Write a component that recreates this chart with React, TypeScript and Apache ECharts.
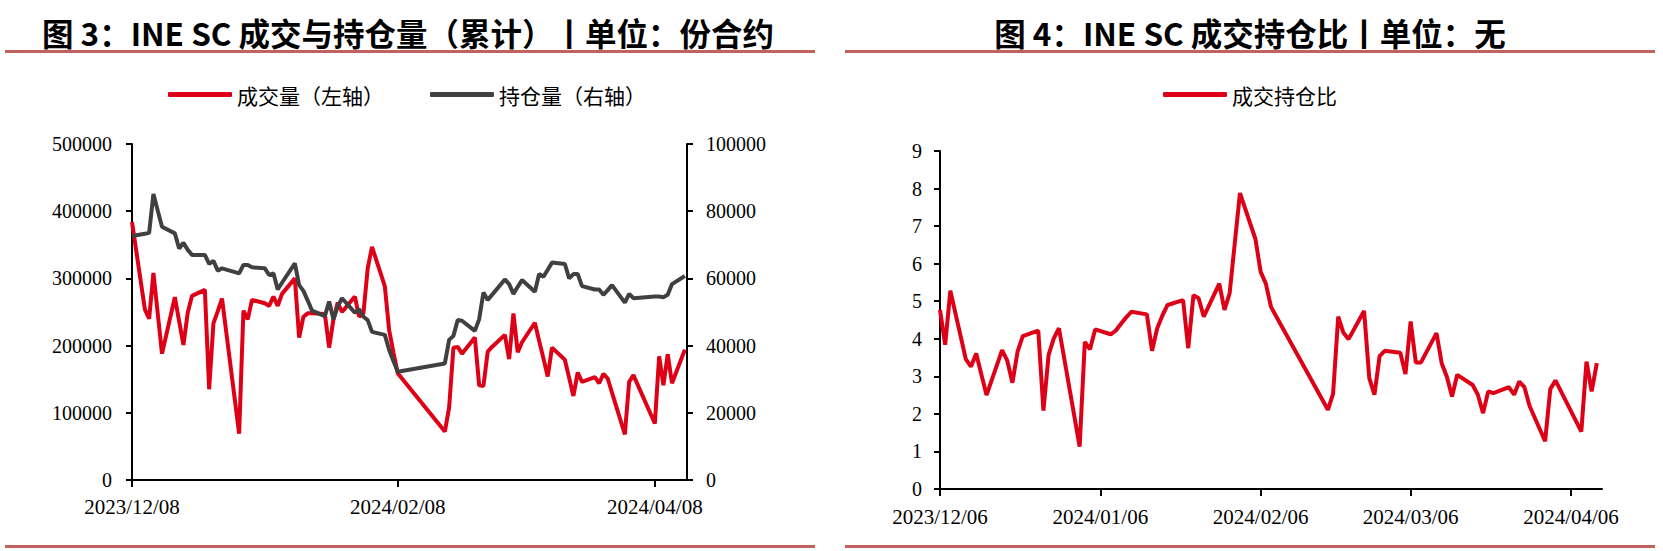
import React, { useEffect, useRef } from "react";
import * as echarts from "echarts";

// ---- Data (left chart: 成交量 / 持仓量) ----
const volDates = [
  "2023-12-08", "2023-12-11", "2023-12-12", "2023-12-13", "2023-12-14", "2023-12-15",
  "2023-12-18", "2023-12-19", "2023-12-20", "2023-12-21", "2023-12-22",
  "2023-12-25", "2023-12-26", "2023-12-27", "2023-12-28", "2023-12-29",
  "2024-01-02", "2024-01-03", "2024-01-04", "2024-01-05",
  "2024-01-08", "2024-01-09", "2024-01-10", "2024-01-11", "2024-01-12",
  "2024-01-15", "2024-01-16", "2024-01-17", "2024-01-18", "2024-01-19",
  "2024-01-22", "2024-01-23", "2024-01-24", "2024-01-25", "2024-01-26",
  "2024-01-29", "2024-01-30", "2024-01-31", "2024-02-01", "2024-02-02",
  "2024-02-05", "2024-02-06", "2024-02-07", "2024-02-08",
  "2024-02-19", "2024-02-20", "2024-02-21", "2024-02-22", "2024-02-23",
  "2024-02-26", "2024-02-27", "2024-02-28", "2024-02-29", "2024-03-01",
  "2024-03-04", "2024-03-05", "2024-03-06", "2024-03-07", "2024-03-08",
  "2024-03-11", "2024-03-12", "2024-03-13", "2024-03-14", "2024-03-15",
  "2024-03-18", "2024-03-19", "2024-03-20", "2024-03-21", "2024-03-22",
  "2024-03-25", "2024-03-26", "2024-03-27", "2024-03-28", "2024-03-29",
  "2024-04-01", "2024-04-02", "2024-04-03",
  "2024-04-08", "2024-04-09", "2024-04-10", "2024-04-11", "2024-04-12",
  "2024-04-15",
];
const volume = [
  384000, 254000, 240000, 308000, 248000, 188000,
  272000, 236000, 201000, 249000, 274000,
  283000, 135000, 233000, 251000, 270000,
  69000, 252000, 239000, 268000,
  263000, 259000, 273000, 259000, 277000,
  300000, 212000, 243000, 248000, 248000,
  247000, 197000, 239000, 264000, 250000,
  273000, 243000, 248000, 315000, 347000,
  288000, 223000, 190000, 159000,
  72000, 108000, 197000, 198000, 188000,
  212000, 141000, 140000, 191000, 198000,
  216000, 180000, 248000, 190000, 205000,
  234000, 207000, 181000, 154000, 197000,
  179000, 152000, 125000, 160000, 146000,
  153000, 144000, 158000, 151000, 130000,
  68000, 146000, 156000,
  84000, 184000, 141000, 187000, 144000,
  194000,
];
const openInterest = [
  72600, 73300, 73600, 85100, 80200, 75400,
  73400, 68900, 70600, 68500, 67000,
  67000, 64300, 65200, 62300, 63000,
  61500, 64000, 64000, 63300,
  63000, 61000, 61500, 56700, 58700,
  64500, 58000, 56300, 53400, 50400,
  48800, 53100, 47800, 51600, 54100,
  49800, 50800, 48600, 47600, 44100,
  43200, 38700, 35400, 32200,
  34700, 41700, 42900, 47600, 47400,
  44400, 47800, 55800, 53600, 55100,
  59700, 58300, 55400, 57500, 59500,
  56000, 61300, 60500, 62600, 64700,
  64300, 60000, 61300, 61300, 57700,
  56700, 56700, 55100, 56500, 58000,
  52800, 55400, 54100,
  54600, 54600, 54400, 55100, 58300,
  60700,
];

// ---- Data (right chart: 成交持仓比) ----
const ratioDates = [
  "2023-12-06", "2023-12-07", "2023-12-08",
  "2023-12-11", "2023-12-12", "2023-12-13", "2023-12-14", "2023-12-15",
  "2023-12-18", "2023-12-19", "2023-12-20", "2023-12-21", "2023-12-22",
  "2023-12-25", "2023-12-26", "2023-12-27", "2023-12-28", "2023-12-29",
  "2024-01-02", "2024-01-03", "2024-01-04", "2024-01-05",
  "2024-01-08", "2024-01-09", "2024-01-10", "2024-01-11", "2024-01-12",
  "2024-01-15", "2024-01-16", "2024-01-17", "2024-01-18", "2024-01-19",
  "2024-01-22", "2024-01-23", "2024-01-24", "2024-01-25", "2024-01-26",
  "2024-01-29", "2024-01-30", "2024-01-31", "2024-02-01", "2024-02-02",
  "2024-02-05", "2024-02-06", "2024-02-07", "2024-02-08",
  "2024-02-19", "2024-02-20", "2024-02-21", "2024-02-22", "2024-02-23",
  "2024-02-26", "2024-02-27", "2024-02-28", "2024-02-29", "2024-03-01",
  "2024-03-04", "2024-03-05", "2024-03-06", "2024-03-07", "2024-03-08",
  "2024-03-11", "2024-03-12", "2024-03-13", "2024-03-14", "2024-03-15",
  "2024-03-18", "2024-03-19", "2024-03-20", "2024-03-21", "2024-03-22",
  "2024-03-25", "2024-03-26", "2024-03-27", "2024-03-28", "2024-03-29",
  "2024-04-01", "2024-04-02", "2024-04-03",
  "2024-04-08", "2024-04-09", "2024-04-10", "2024-04-11",
];
const ratio = [
  4.77, 3.84, 5.28,
  3.45, 3.26, 3.61, 3.05, 2.5,
  3.7, 3.42, 2.83, 3.66, 4.07,
  4.22, 2.09, 3.57, 4.01, 4.28,
  1.13, 3.92, 3.72, 4.25,
  4.12, 4.22, 4.4, 4.57, 4.72,
  4.65, 3.68, 4.28, 4.62, 4.9,
  5.03, 3.75, 5.16, 5.08, 4.59,
  5.47, 4.77, 5.21, 6.55, 7.88,
  6.65, 5.78, 5.47, 4.85,
  2.11, 2.53, 4.59, 4.16, 3.99,
  4.74, 2.95, 2.51, 3.54, 3.68,
  3.63, 3.06, 4.46, 3.37, 3.37,
  4.15, 3.35, 2.99, 2.46, 3.04,
  2.77, 2.51, 2.02, 2.6, 2.55,
  2.71, 2.51, 2.86, 2.71, 2.21,
  1.27, 2.66, 2.89,
  1.53, 3.39, 2.6, 3.35,
];

const leftTickDates = ["2023-12-08", "2024-02-08", "2024-04-08"];
const rightTickDates = ["2023-12-06", "2024-01-06", "2024-02-06", "2024-03-06", "2024-04-06"];

const leftTitle = "图 3：INE SC 成交与持仓量（累计）丨单位：份合约";
const rightTitle = "图 4：INE SC 成交持仓比丨单位：无";

const RED = "#DE0016";
const GRAY = "#404040";
const DIV = "#C0625E";
const CJK = "'Noto Sans CJK SC', sans-serif";
const SERIF = "'Liberation Serif', 'Times New Roman', serif";
const DAY = 86400000;
const LINE_W = 4;

function ts(s: string): number {
  const [y, m, d] = s.split("-").map(Number);
  return Date.UTC(y, m - 1, d);
}
function pad(n: number): string {
  return n < 10 ? "0" + n : "" + n;
}
function fmtDate(v: number): string {
  const d = new Date(Math.round(v / DAY) * DAY);
  return `${d.getUTCFullYear()}/${pad(d.getUTCMonth() + 1)}/${pad(d.getUTCDate())}`;
}
const plain = (v: number) => String(v);

const axisLineStyle = { show: true, lineStyle: { color: "#000", width: 2 } };
const axisTickStyle = { show: true, length: 6, lineStyle: { color: "#000", width: 2 } };

export default function App() {
  const ref = useRef<HTMLDivElement>(null);

  useEffect(() => {
    if (!ref.current) return;
    const chart = echarts.init(ref.current, undefined, { renderer: "svg" });

    const leftTicks = leftTickDates.map(ts);
    const rightTicks = rightTickDates.map(ts);

    const option: any = {
      animation: false,
      backgroundColor: "#fff",
      graphic: [
        {
          type: "text",
          x: 408,
          y: 32,
          style: {
            text: leftTitle,
            textAlign: "center",
            textVerticalAlign: "middle",
            font: `bold 31.5px ${CJK}`,
            fill: "#000",
          },
        },
        {
          type: "text",
          x: 1250,
          y: 32,
          style: {
            text: rightTitle,
            textAlign: "center",
            textVerticalAlign: "middle",
            font: `bold 31.5px ${CJK}`,
            fill: "#000",
          },
        },
        { type: "rect", shape: { x: 5, y: 50, width: 810, height: 3 }, style: { fill: DIV } },
        { type: "rect", shape: { x: 845, y: 50, width: 810, height: 3 }, style: { fill: DIV } },
        { type: "rect", shape: { x: 5, y: 545, width: 810, height: 3 }, style: { fill: DIV } },
        { type: "rect", shape: { x: 845, y: 545, width: 810, height: 3 }, style: { fill: DIV } },
      ],
      legend: [
        {
          data: ["成交量（左轴）", "持仓量（右轴）"],
          left: 168,
          top: 84,
          padding: 0,
          itemGap: 46,
          itemWidth: 64,
          itemHeight: 5,
          icon: "roundRect",
          selectedMode: false,
          textStyle: { fontSize: 21, fontFamily: CJK, color: "#000" },
        },
        {
          data: ["成交持仓比"],
          left: 1163,
          top: 84,
          padding: 0,
          itemWidth: 64,
          itemHeight: 5,
          icon: "roundRect",
          selectedMode: false,
          textStyle: { fontSize: 21, fontFamily: CJK, color: "#000" },
        },
      ],
      grid: [
        { left: 132, top: 144, width: 555, height: 336 },
        { left: 940, top: 151, width: 662, height: 338 },
      ],
      xAxis: [
        {
          type: "value",
          gridIndex: 0,
          min: ts("2023-12-08"),
          max: ts("2024-04-15") + DAY / 2,
          axisLine: axisLineStyle,
          axisTick: { ...axisTickStyle, length: 7, customValues: leftTicks },
          axisLabel: {
            customValues: leftTicks,
            formatter: (v: number) => fmtDate(v),
            fontSize: 21,
            fontFamily: SERIF,
            color: "#000",
            margin: 16,
          },
          splitLine: { show: false },
        },
        {
          type: "value",
          gridIndex: 1,
          min: ts("2023-12-06"),
          max: ts("2024-04-12"),
          axisLine: axisLineStyle,
          axisTick: { ...axisTickStyle, length: 7, customValues: rightTicks },
          axisLabel: {
            customValues: rightTicks,
            formatter: (v: number) => fmtDate(v),
            fontSize: 21,
            fontFamily: SERIF,
            color: "#000",
            margin: 17,
          },
          splitLine: { show: false },
        },
      ],
      yAxis: [
        {
          type: "value",
          gridIndex: 0,
          position: "left",
          min: 0,
          max: 500000,
          interval: 100000,
          axisLine: axisLineStyle,
          axisTick: axisTickStyle,
          axisLabel: { formatter: plain, fontSize: 20, fontFamily: SERIF, color: "#000", margin: 20 },
          splitLine: { show: false },
        },
        {
          type: "value",
          gridIndex: 0,
          position: "right",
          min: 0,
          max: 100000,
          interval: 20000,
          axisLine: axisLineStyle,
          axisTick: axisTickStyle,
          axisLabel: { formatter: plain, fontSize: 20, fontFamily: SERIF, color: "#000", margin: 19 },
          splitLine: { show: false },
        },
        {
          type: "value",
          gridIndex: 1,
          min: 0,
          max: 9,
          interval: 1,
          axisLine: axisLineStyle,
          axisTick: axisTickStyle,
          axisLabel: { formatter: plain, fontSize: 20, fontFamily: SERIF, color: "#000", margin: 18 },
          splitLine: { show: false },
        },
      ],
      series: [
        {
          name: "成交量（左轴）",
          type: "line",
          xAxisIndex: 0,
          yAxisIndex: 0,
          data: volDates.map((d, i) => [ts(d), volume[i]]),
          symbol: "none",
          lineStyle: { color: RED, width: LINE_W },
          itemStyle: { color: RED },
        },
        {
          name: "持仓量（右轴）",
          type: "line",
          xAxisIndex: 0,
          yAxisIndex: 1,
          data: volDates.map((d, i) => [ts(d), openInterest[i]]),
          symbol: "none",
          lineStyle: { color: GRAY, width: LINE_W },
          itemStyle: { color: GRAY },
        },
        {
          name: "成交持仓比",
          type: "line",
          xAxisIndex: 1,
          yAxisIndex: 2,
          data: ratioDates.map((d, i) => [ts(d), ratio[i]]),
          symbol: "none",
          lineStyle: { color: RED, width: LINE_W },
          itemStyle: { color: RED },
        },
      ],
    };

    chart.setOption(option);
    return () => chart.dispose();
  }, []);

  return (
    <div
      ref={ref}
      style={{ position: "fixed", left: 0, top: 0, width: 1663, height: 551, background: "#fff" }}
    />
  );
}
